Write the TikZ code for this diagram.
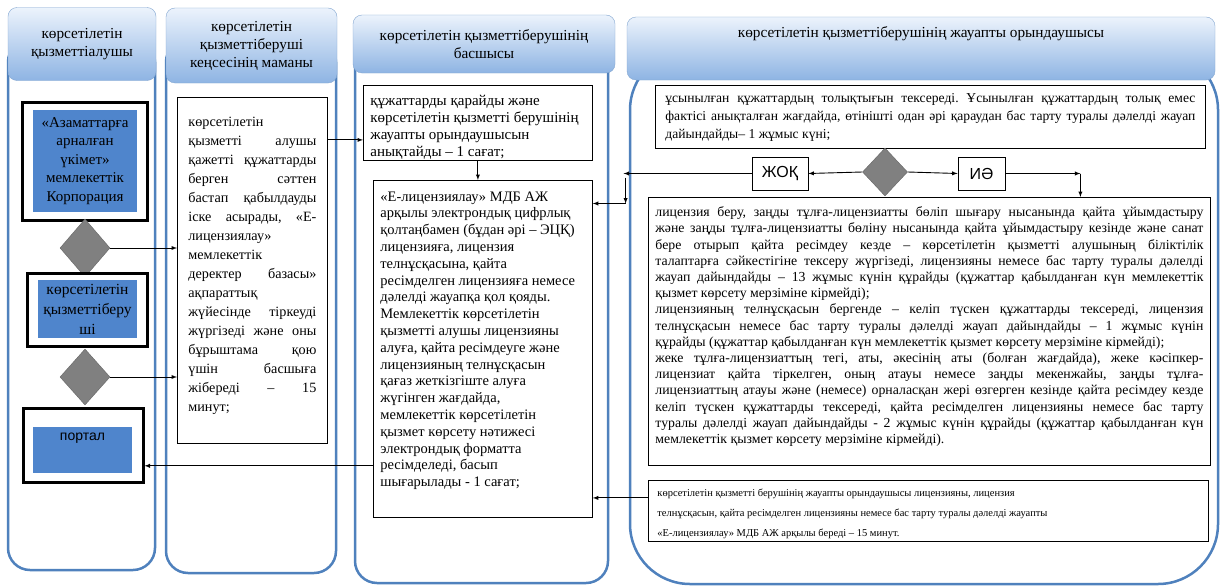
\documentclass[tikz,border=0pt]{standalone}
\usepackage{fontspec}
\setmainfont{Liberation Serif}
\setsansfont{Liberation Sans}
\usetikzlibrary{shapes.geometric}

\definecolor{lanecol}{RGB}{79,129,189}
\definecolor{headtop}{RGB}{236,243,252}
\definecolor{headbot}{RGB}{142,180,227}
\definecolor{boxblue}{RGB}{79,133,204}
\definecolor{diagray}{RGB}{128,128,128}

\tolerance=10000
\hyphenpenalty=10000
\exhyphenpenalty=10000
\frenchspacing

% box text: width, height, top gap, text
\newcommand{\boxtext}[4]{\parbox[t][#2][t]{#1}{\vspace*{#3}\strut#4}}

\tikzset{
  lane/.style={draw=lanecol, line width=2.5pt, rounded corners=22pt},
  lanehead/.style={draw=lanecol!70, rounded corners=9pt, top color=headtop, bottom color=headbot, align=center, font=\fontsize{15.3}{18}\selectfont},
  outerbox/.style={draw, line width=3pt, fill=white},
  bluebox/.style={fill=boxblue, inner sep=0pt, align=center},
  stepbox/.style={draw, line width=0.8pt, fill=white, anchor=north west, inner ysep=0pt},
  decision/.style={diamond, fill=diagray, draw=diagray!80!black, inner sep=0pt},
  answer/.style={draw, line width=0.8pt, fill=white, inner sep=0pt, font=\sffamily\fontsize{16}{18}\selectfont},
  arr/.style={->, line width=0.9pt},
}

\begin{document}
\begin{tikzpicture}[x=1pt, y=-1pt, >=latex]

  \fill[white] (0,0) rectangle (1222,586);
  \useasboundingbox (0,0) rectangle (1222,586);

  % Lanes
  \draw[lane] (8,40) rectangle (155,570);
  \draw[lane] (166,40) rectangle (336,573);
  \draw[lane] (355,40) rectangle (608,583);
  \draw[lane, rounded corners=60pt] (630,50) rectangle (1218,584);

  % Lane headings
  \node[lanehead, minimum width=148pt, minimum height=73pt] (hRecv) at (82,44) {көрсетілетін\\қызметтіалушы};
  \node[lanehead, minimum width=171pt, minimum height=75pt] (hOffice) at (251.5,45.5) {көрсетілетін\\қызметтіберуші\\кеңсесінің маманы};
  \node[lanehead, minimum width=262pt, minimum height=58pt] (hHead) at (484,44) {көрсетілетін қызметтіберушінің\\басшысы};
  \node[lanehead, minimum width=588pt, minimum height=63pt, text depth=33pt] (hExec) at (921,48.5) {көрсетілетін қызметтіберушінің жауапты орындаушысы};

  % Service receiver lane
  \node[outerbox, minimum width=125pt, minimum height=118pt] (corpFrame) at (84.5,161) {};
  \node[bluebox, minimum width=104pt, minimum height=102pt, font=\fontsize{15}{18.5}\selectfont] (corp) at (85,161) {«Азаматтарға\\арналған\\үкімет»\\мемлекеттік\\Корпорация};
  \node[decision, minimum width=50pt, minimum height=58pt] (dia1) at (85,248) {};
  \node[outerbox, minimum width=120pt, minimum height=73pt] (provFrame) at (87,309.5) {};
  \node[bluebox, minimum width=99pt, minimum height=58pt, font=\fontsize{15.5}{20}\selectfont] (prov) at (87.5,309) {көрсетілетін\\қызметтіберу\\ші};
  \node[decision, minimum width=50pt, minimum height=56pt] (dia2) at (85,377) {};
  \node[outerbox, minimum width=120pt, minimum height=74pt] (portFrame) at (83,445) {};
  \node[bluebox, minimum width=99pt, minimum height=46pt, text depth=26pt, font=\sffamily\fontsize{14}{16}\selectfont] (portal) at (82.5,450) {портал};

  % Office specialist lane
  \node[stepbox, inner xsep=11pt, font=\fontsize{14.2}{19}\selectfont] (spec) at (177,97)
    {\boxtext{128pt}{346pt}{16pt}{көрсетілетін\linebreak қызметті алушы\linebreak қажетті құжаттарды\linebreak берген сәттен\linebreak бастап қабылдауды\linebreak іске асырады, «Е-\linebreak лицензиялау»\linebreak мемлекеттік\linebreak деректер базасы»\linebreak ақпараттық\linebreak жүйесінде тіркеуді\linebreak жүргізеді және оны\linebreak бұрыштама қою\linebreak үшін басшыға\linebreak жібереді – 15\linebreak минут;}};

  % Head lane
  \node[stepbox, inner xsep=7pt, font=\fontsize{15}{16.8}\selectfont] (review) at (363,85)
    {\boxtext{215pt}{75pt}{8.5pt}{\raggedright құжаттарды қарайды және\\ көрсетілетін қызметті берушінің\\ жауапты орындаушысын\\ анықтайды – 1 сағат;}};
  \node[stepbox, inner xsep=7pt, font=\fontsize{14.5}{16.8}\selectfont] (sign) at (373,180)
    {\boxtext{205pt}{337pt}{9pt}{\raggedright «Е-лицензиялау» МДБ АЖ\\ арқылы электрондық цифрлық\\ қолтаңбамен (бұдан әрі – ЭЦҚ)\\ лицензияға, лицензия\\ телнұсқасына, қайта\\ ресімделген лицензияға немесе\\ дәлелді жауапқа қол қояды.\\ Мемлекеттік көрсетілетін\\ қызметті алушы лицензияны\\ алуға, қайта ресімдеуге және\\ лицензияның телнұсқасын\\ қағаз жеткізгіште алуға\\ жүгінген жағдайда,\\ мемлекеттік көрсетілетін\\ қызмет көрсету нәтижесі\\ электрондық форматта\\ ресімделеді, басып\\ шығарылады - 1 сағат;}};

  % Executor lane
  \node[stepbox, inner xsep=10pt, font=\fontsize{13.6}{18}\selectfont] (check) at (655,85)
    {\boxtext{530pt}{63pt}{4pt}{ұсынылған құжаттардың толықтығын тексереді. Ұсынылған құжаттардың толық емес\linebreak фактісі анықталған жағдайда, өтінішті одан әрі қараудан бас тарту туралы дәлелді жауап\linebreak дайындайды– 1 жұмыс күні;}};
  \node[decision, minimum width=45pt, minimum height=48pt] (dia3) at (885,172) {};
  \node[answer, minimum width=56pt, minimum height=33pt] (no) at (780,173.5) {ЖОҚ};
  \node[answer, minimum width=47pt, minimum height=33pt] (yes) at (981.5,173.5) {ИӘ};
  \node[stepbox, inner xsep=7pt, font=\fontsize{13.8}{16.2}\selectfont] (work) at (648,197)
    {\boxtext{548pt}{268pt}{8pt}{лицензия беру, заңды тұлға-лицензиатты бөліп шығару нысанында қайта ұйымдастыру\linebreak және заңды тұлға-лицензиатты бөліну нысанында қайта ұйымдастыру кезінде және санат\linebreak бере отырып қайта ресімдеу кезде – көрсетілетін қызметті алушының біліктілік\linebreak талаптарға сәйкестігіне тексеру жүргізеді, лицензияны немесе бас тарту туралы дәлелді\linebreak жауап дайындайды – 13 жұмыс күнін құрайды (құжаттар қабылданған күн мемлекеттік\linebreak қызмет көрсету мерзіміне кірмейді);\par
    лицензияның телнұсқасын бергенде – келіп түскен құжаттарды тексереді, лицензия\linebreak телнұсқасын немесе бас тарту туралы дәлелді жауап дайындайды – 1 жұмыс күнін\linebreak құрайды (құжаттар қабылданған күн мемлекеттік қызмет көрсету мерзіміне кірмейді);\par
    жеке тұлға-лицензиаттың тегі, аты, әкесінің аты (болған жағдайда), жеке кәсіпкер-\linebreak лицензиат қайта тіркелген, оның атауы немесе заңды мекенжайы, заңды тұлға-\linebreak лицензиаттың атауы және (немесе) орналасқан жері өзгерген кезінде қайта ресімдеу кезде\linebreak келіп түскен құжаттарды тексереді, қайта ресімделген лицензияны немесе бас тарту\linebreak туралы дәлелді жауап дайындайды - 2 жұмыс күнін құрайды (құжаттар қабылданған күн\linebreak мемлекеттік қызмет көрсету мерзіміне кірмейді).}};
  \node[stepbox, inner xsep=9pt, font=\fontsize{10.5}{20}\selectfont] (issue) at (648,480)
    {\boxtext{542pt}{61pt}{2pt}{\raggedright көрсетілетін қызметті берушінің жауапты орындаушысы лицензияны, лицензия\\ телнұсқасын, қайта ресімделген лицензияны немесе бас тарту туралы дәлелді жауапты\\ «Е-лицензиялау» МДБ АЖ арқылы береді – 15 минут.}};

  % Turning points
  \coordinate (cNo) at ([xshift=-128pt]no.west);
  \coordinate (cDown) at ([xshift=2pt, yshift=-30pt]cNo);
  \coordinate (cYes) at ([xshift=75pt]yes.east);

  % Connectors
  \draw[arr] (dia1.east) -- (dia1.east -| spec.west);
  \draw[arr] (dia2.east) -- (dia2.east -| spec.west);
  \draw[arr] ([yshift=-17pt]review.west -| spec.east) -- ([yshift=-17pt]review.west);
  \draw[arr] (review.south) -- (review.south |- sign.north);
  \draw[arr] (dia3.west) -- (no.east);
  \draw[arr] (dia3.east) -- (yes.west);
  \draw[arr] (no.west) -- (cNo);
  \draw[arr] ([xshift=2pt, yshift=-4pt]cNo) -- (cDown);
  \draw[arr] (cDown) -- (cDown -| sign.east);
  \draw[arr] (yes.east) -- (cYes);
  \draw[arr] (cYes) -- (cYes |- work.north);
  \draw[arr] ([yshift=13pt]issue.west) -- ([yshift=13pt]issue.west -| sign.east);
  \draw[arr] ([yshift=52pt]sign.south west) -- ([yshift=52pt]sign.south west -| portFrame.east);

\end{tikzpicture}
\end{document}
